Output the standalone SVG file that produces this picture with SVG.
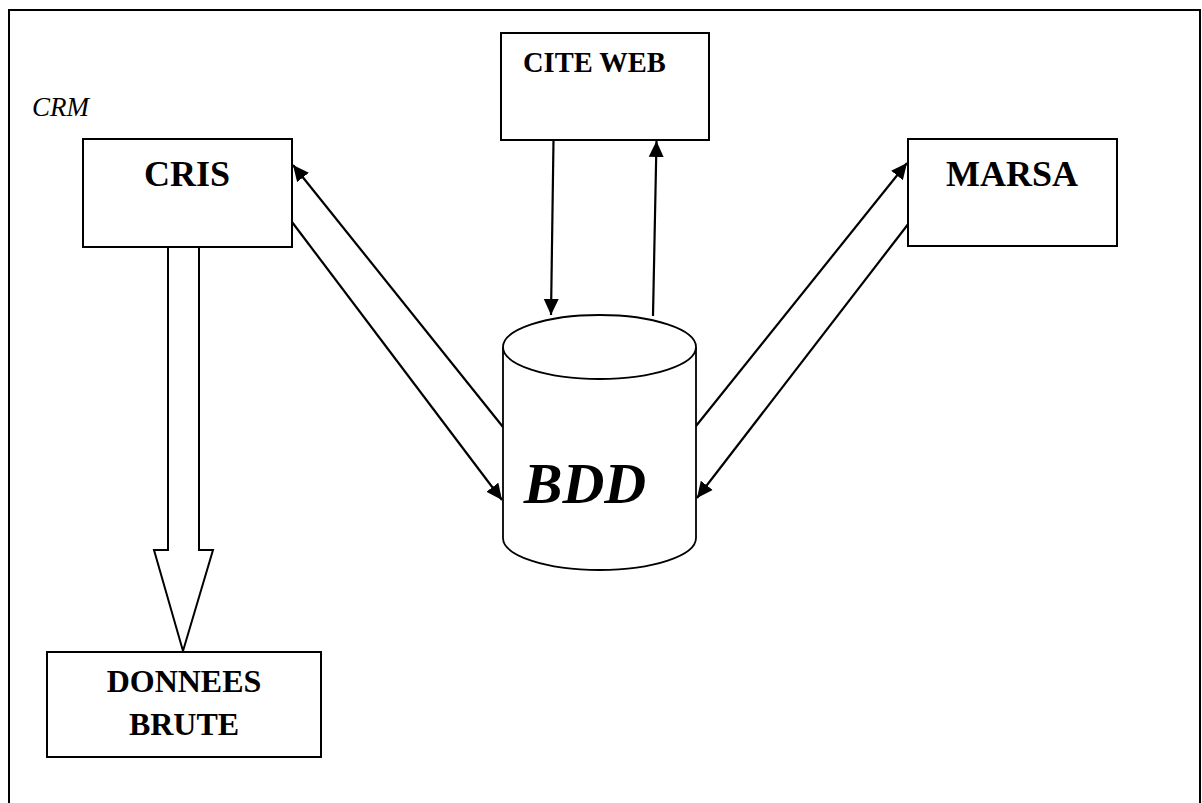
<svg xmlns="http://www.w3.org/2000/svg" width="1202" height="803" viewBox="0 0 1202 803">
  <style>
    .box { fill: #fff; stroke: #000; stroke-width: 2; }
    .frame { fill: none; stroke: #000; stroke-width: 2; }
    .lbl { font-family: "Liberation Serif", "Times New Roman", serif; font-weight: bold; fill: #000; }
    .link { fill: none; stroke: #000; stroke-width: 2.2; marker-end: url(#head); }
  </style>
  <defs>
    <marker id="head" markerUnits="userSpaceOnUse" markerWidth="17" markerHeight="16" refX="16" refY="8" orient="auto">
      <path d="M0,0.5 L16,8 L0,15.5 z" fill="#000"/>
    </marker>
  </defs>

  <rect width="1202" height="803" fill="#fff"/>
  <!-- page border, open at the bottom -->
  <path class="frame" d="M9,803 V10 H1200 V803"/>

  <text x="32" y="116" font-family="'Liberation Serif', 'Times New Roman', serif" font-style="italic" font-size="27">CRM</text>

  <g id="connectors">
    <!-- CITE WEB <-> BDD -->
    <line class="link" x1="553.5" y1="140" x2="551" y2="315"/>
    <line class="link" x1="653" y1="316" x2="656.5" y2="141"/>
    <!-- CRIS <-> BDD -->
    <line class="link" x1="503" y1="427" x2="293" y2="165"/>
    <line class="link" x1="292" y1="222" x2="502" y2="500"/>
    <!-- MARSA <-> BDD -->
    <line class="link" x1="696" y1="426" x2="907" y2="163"/>
    <line class="link" x1="909" y1="223" x2="697" y2="498"/>
    <!-- CRIS => DONNEES BRUTE (block arrow) -->
    <polygon points="168,247 199,247 199,550 213,550 183,651 154,550 168,550" fill="#fff" stroke="#000" stroke-width="2" stroke-linejoin="miter"/>
  </g>

  <g id="cris">
    <rect class="box" x="83" y="139" width="209" height="108"/>
    <text class="lbl" x="187" y="186" font-size="36" text-anchor="middle">CRIS</text>
  </g>

  <g id="cite-web">
    <rect class="box" x="501" y="33" width="208" height="107"/>
    <text class="lbl" x="523" y="72" font-size="28.5">CITE WEB</text>
  </g>

  <g id="marsa">
    <rect class="box" x="908" y="139" width="209" height="107"/>
    <text class="lbl" x="1012" y="186" font-size="36" text-anchor="middle">MARSA</text>
  </g>

  <g id="bdd">
    <path d="M503,347 V538 A96.5,32 0 0 0 696,538 V347" fill="#fff" stroke="#000" stroke-width="1.8"/>
    <ellipse cx="599.5" cy="347" rx="96.5" ry="32" fill="#fff" stroke="#000" stroke-width="1.8"/>
    <text class="lbl" x="585" y="503" font-size="58" font-style="italic" text-anchor="middle">BDD</text>
  </g>

  <g id="donnees-brute">
    <rect class="box" x="47" y="652" width="274" height="105"/>
    <text class="lbl" x="184" y="692" font-size="32" text-anchor="middle">DONNEES</text>
    <text class="lbl" x="184" y="735" font-size="32" text-anchor="middle">BRUTE</text>
  </g>
</svg>
